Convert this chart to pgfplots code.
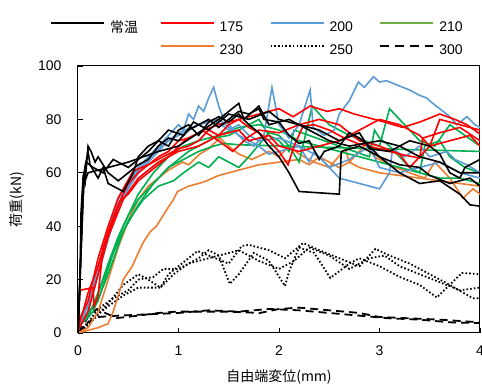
\documentclass[border=0pt]{standalone}
\usepackage{pgfplots}
\pgfplotsset{compat=1.18}
\usepackage{fontspec}
\setmainfont{Liberation Sans}
\newfontfamily\jp{Noto Sans CJK JP}
\definecolor{cred}{RGB}{255,0,0}
\definecolor{cblue}{RGB}{91,155,213}
\definecolor{cgreen}{RGB}{0,176,80}
\definecolor{lgreen}{RGB}{112,173,71}
\definecolor{corange}{RGB}{237,125,49}
\pgfplotsset{
  sblk/.style={black, line width=1.6pt, forget plot},
  sred/.style={cred, line width=1.6pt, forget plot},
  sblu/.style={cblue, line width=1.6pt, forget plot},
  sgrn/.style={cgreen, line width=1.6pt, forget plot},
  sora/.style={corange, line width=1.6pt, forget plot},
  sdot/.style={black, line width=1.8pt, dash pattern=on 1.6pt off 2.1pt, forget plot},
  sdash/.style={black, line width=1.8pt, dash pattern=on 8pt off 5pt, forget plot},
}
\begin{document}
\begin{tikzpicture}[font=\fontsize{14}{16}\selectfont]
\path[use as bounding box] (-78pt,-52pt) rectangle (404pt,333pt);
\begin{axis}[
  scale only axis, width=402pt, height=267pt,
  xmin=0, xmax=4, ymin=0, ymax=100,
  xtick={0,1,2,3,4}, ytick={0,20,40,60,80,100},
  tick align=inside, xtick pos=bottom, ytick pos=left,
  major tick length=5pt,
  /pgf/number format/assume math mode=true,
  yticklabel style={xshift=-13pt},
  xticklabel style={yshift=-9pt},
  axis line style={line width=1pt},
  every tick/.style={black, line width=0.8pt},
  xlabel={\jp 自由端変位(mm)},
  ylabel={\jp 荷重(kN)},
  xlabel style={at={(axis description cs:0.5,-0.165)}, anchor=center},
  ylabel style={at={(axis description cs:-0.152,0.5)}, anchor=center},
  legend columns=4,
  legend style={draw=none, fill=none, inner sep=0pt,
    at={(axis description cs:0.465,1.103)}, anchor=center,
    nodes={inner sep=0pt},
    /tikz/every odd column/.append style={column sep=5pt},
    /tikz/every even column/.append style={column sep=10pt},
    row sep=11pt},
  legend image code/.code={\draw[#1] (0pt,4.5pt) -- (53pt,4.5pt);},
  no markers,
]
% legend
\addlegendimage{black, line width=1.6pt}\addlegendentry{\makebox[40pt][l]{\jp 常温}}
\addlegendimage{cred, line width=1.6pt}\addlegendentry{\makebox[40pt][l]{175}}
\addlegendimage{cblue, line width=1.6pt}\addlegendentry{\makebox[40pt][l]{200}}
\addlegendimage{lgreen, line width=1.6pt}\addlegendentry{\makebox[40pt][l]{210}}
\addlegendimage{empty legend}\addlegendentry{\makebox[40pt][l]{}}
\addlegendimage{corange, line width=1.6pt}\addlegendentry{\makebox[40pt][l]{230}}
\addlegendimage{black, line width=1.8pt, dash pattern=on 1.6pt off 2.1pt}\addlegendentry{\makebox[40pt][l]{250}}
\addlegendimage{black, line width=1.8pt, dash pattern=on 9pt off 6pt}\addlegendentry{\makebox[40pt][l]{300}}

% 250 dotted
\addplot[sdot] coordinates {(0,0)(0.1,3)(0.2,7)(0.3,10)(0.45,14)(0.6,17)(0.82,17)(0.9,22)(1.0,25)(1.19,30.7)(1.3,29)(1.5,26)(1.63,32.6)(1.7,33)(1.9,31)(2.06,28)(2.24,33.7)(2.4,31)(2.6,28)(2.8,25)(2.96,31.5)(3.1,29)(3.3,26)(3.5,22)(3.7,18)(3.93,13)(4.0,13)};
\addplot[sdot] coordinates {(0,0)(0.1,4)(0.2,9)(0.35,13)(0.5,16)(0.6,20)(0.75,21)(0.85,24)(1.0,24)(1.2,28)(1.3,31)(1.4,29)(1.51,18.4)(1.6,22)(1.75,30)(1.9,27)(2.06,17.6)(2.1,23)(2.2,32)(2.35,30)(2.51,20.6)(2.7,26)(2.8,28)(3.0,25)(3.2,21)(3.4,18)(3.57,13.3)(3.82,22.5)(4.0,22)};
\addplot[sdot] coordinates {(0,0)(0.15,5)(0.3,11)(0.45,18)(0.6,22)(0.7,20)(0.82,17)(0.95,22)(1.1,26)(1.3,28)(1.5,30)(1.6,31)(1.8,27)(2.0,24)(2.15,27)(2.3,32)(2.5,29)(2.7,24)(2.9,28)(3.05,29)(3.2,25)(3.4,22)(3.6,19)(3.8,16)(4.0,17)};
% 300 dashed
\addplot[sdash] coordinates {(0,0)(0.05,3)(0.1,6)(0.19,9)(0.3,7)(0.39,5.6)(0.6,6.5)(0.8,7.5)(0.98,8)(1.2,8)(1.5,8)(1.81,7.5)(2.0,9)(2.2,9.5)(2.5,8.5)(2.8,7.5)(3.0,6)(3.3,5.5)(3.6,5)(4.0,4)};
\addplot[sdash] coordinates {(0,0)(0.1,4)(0.2,6)(0.4,6.5)(0.7,7)(1.0,7.5)(1.3,8.5)(1.6,8)(1.9,9)(2.2,8.5)(2.5,7.5)(2.8,6.5)(3.1,5.5)(3.4,5)(3.7,4)(4.0,3.7)};
% 230 orange
\addplot[sora] coordinates {(0,0)(0.1,1)(0.2,2)(0.3,3.5)(0.35,8)(0.4,14)(0.45,20)(0.54,25)(0.6,30)(0.65,34)(0.72,38)(0.78,40)(0.88,46)(0.95,50)(0.99,53)(1.1,55)(1.2,56)(1.28,57)(1.4,59)(1.6,61)(1.8,63)(2.0,64)(2.2,65)(2.3,63)(2.4,66)(2.5,64)(2.6,62)(2.7,64)(2.8,62)(3.0,60)(3.2,59)(3.4,58)(3.6,57)(3.8,56)(4.0,55)};
\addplot[sora] coordinates {(0,0)(0.1,2)(0.2,8)(0.3,20)(0.4,32)(0.5,42)(0.6,50)(0.7,55)(0.8,58)(0.9,61)(1.04,64)(1.1,63)(1.21,67)(1.3,69)(1.41,73)(1.5,70)(1.6,67)(1.73,65)(1.9,68)(2.0,66)(2.1,70)(2.2,67)(2.35,64)(2.5,62)(2.66,69)(2.7,64)(2.87,71)(2.95,66)(3.1,63)(3.3,60)(3.45,58)(3.55,64)(3.7,58)(3.83,50.5)(3.93,54)(4.0,52)};
% 210 green
\addplot[sgrn] coordinates {(0,3)(0.1,6)(0.2,15)(0.3,26)(0.4,36)(0.5,44)(0.6,50)(0.7,54)(0.8,58)(0.9,62)(1.0,65)(1.1,68)(1.2,70)(1.35,73)(1.5,74)(1.6,76)(1.7,78)(1.8,80)(1.9,74)(2.0,72)(2.1,68)(2.15,76)(2.3,74)(2.45,72)(2.6,70)(2.75,68)(2.9,66)(2.95,76)(3.0,73)(3.1,70)(3.2,66)(3.3,62)(3.4,60)(3.45,70)(3.6,72)(3.7,66)(3.85,62)(4.0,60)};
\addplot[sgrn] coordinates {(0,2)(0.15,8)(0.3,22)(0.45,38)(0.6,48)(0.75,56)(0.9,62)(1.0,64)(1.1,66)(1.2,68)(1.35,70)(1.45,71)(1.6,70.5)(2.5,69.5)(3.0,69)(3.5,68.5)(4.0,68)};
\addplot[sgrn] coordinates {(0,2)(0.2,12)(0.35,30)(0.5,42)(0.65,50)(0.8,55)(0.95,57)(1.05,60)(1.2,64)(1.3,62)(1.4,66)(1.5,64)(1.6,62)(1.7,66)(1.9,75)(2.0,74)(2.1,70)(2.2,64)(2.25,72)(2.33,85)(2.5,78)(2.7,74)(2.85,72)(3.0,70)(3.1,84)(3.25,78)(3.4,72)(3.55,70)(3.7,78)(3.85,74)(4.0,70)};
\addplot[sgrn] coordinates {(0,3)(0.15,10)(0.3,25)(0.45,40)(0.6,52)(0.75,60)(0.9,66)(1.05,70)(1.2,72)(1.4,74)(1.6,77)(1.8,78)(2.0,76)(2.2,72)(2.4,70)(2.6,68)(2.8,66)(3.0,64)(3.2,62)(3.4,60)(3.6,58)(3.8,58)(4.0,56)};
% 200 blue
\addplot[sblu] coordinates {(0,2)(0.1,10)(0.2,25)(0.3,38)(0.4,50)(0.5,56)(0.6,62)(0.7,66)(0.8,70)(0.9,74)(1.0,78)(1.05,76)(1.1,82)(1.15,80)(1.2,85)(1.25,83)(1.3,88)(1.35,92)(1.4,85)(1.45,80)(1.55,76)(1.65,72)(1.75,70)(1.85,74)(1.93,92)(2.0,78)(2.1,73)(2.2,78)(2.31,91)(2.34,77)(2.45,74)(2.55,76)(2.6,82)(2.7,87)(2.79,94)(2.85,92)(2.94,96)(3.0,94)(3.07,94.5)(3.2,92.5)(3.3,91)(3.4,89)(3.47,88)(3.53,86)(3.6,84)(3.7,81)(3.77,78)(3.87,81)(3.95,78)(4.0,77)};
\addplot[sblu] coordinates {(0,1)(0.1,8)(0.2,22)(0.3,35)(0.4,47)(0.5,54)(0.6,60)(0.7,64)(0.8,68)(0.9,72)(1.0,74)(1.1,76)(1.2,78)(1.35,80)(1.5,76)(1.6,78)(1.7,74)(1.8,72)(2.0,73)(2.2,70)(2.4,66)(2.5,62)(2.6,58)(2.8,56)(3.0,54)(3.1,60)(3.13,69)(3.25,66)(3.4,70)(3.5,66)(3.67,68)(3.75,65)(3.87,63)(4.0,60)};
\addplot[sblu] coordinates {(0,2)(0.15,15)(0.3,37)(0.45,52)(0.6,61)(0.8,69)(1.0,75)(1.2,78)(1.4,80)(1.5,77)(1.6,74)(1.8,70)(1.9,67)(2.0,68)(2.2,70)(2.3,64)(2.35,68)(2.5,62)(2.7,65)(2.9,70)(3.0,62)(3.2,60)(3.4,62)(3.6,64)(3.8,60)(4.0,58)};
% 175 red
\addplot[sred] coordinates {(0,2)(0.05,8)(0.1,15)(0.2,25)(0.3,38)(0.4,48)(0.5,56)(0.6,60)(0.7,63)(0.8,66)(0.9,68)(1.0,72)(1.1,73)(1.25,76)(1.4,78)(1.6,80)(1.8,82)(2.0,84)(2.14,81)(2.31,85)(2.48,83)(2.6,84)(2.75,82)(2.9,80.5)(3.05,79)(3.23,77)(3.4,79)(3.6,82)(3.75,80)(3.87,78)(4.0,74.5)};
\addplot[sred] coordinates {(0,3)(0.02,16)(0.15,17)(0.16,10)(0.2,14)(0.25,32)(0.35,42)(0.42,49.5)(0.5,52)(0.6,57)(0.7,60)(0.8,63)(0.9,66)(1.0,69)(1.1,70)(1.2,72)(1.3,76)(1.4,74)(1.5,78)(1.6,80)(1.7,77)(1.8,75)(1.9,72)(2.0,68)(2.09,63)(2.15,70)(2.24,77.5)(2.35,78)(2.5,76)(2.65,73)(2.78,71)(3.0,69)(3.2,67)(3.4,65.5)(3.43,73)(3.6,75)(3.8,77)(4.0,72)};
\addplot[sred] coordinates {(0,4)(0.1,12)(0.2,28)(0.3,40)(0.4,50.6)(0.55,60.7)(0.7,63)(0.82,65.5)(0.95,68)(1.08,72.7)(1.25,75.6)(1.4,72)(1.54,68)(1.68,73)(1.8,76)(2.0,75)(2.2,78)(2.4,80)(2.6,78)(2.8,72)(3.0,70)(3.2,67)(3.3,62)(3.4,66)(3.5,70)(3.6,80)(3.8,78)(4.0,76)};
\addplot[sred] coordinates {(0,1)(0.1,8)(0.2,22)(0.3,36)(0.45,50)(0.6,58)(0.8,64)(1.0,68)(1.2,70)(1.4,74)(1.6,76)(1.7,72)(1.9,74)(2.0,70)(2.2,68)(2.4,70)(2.6,72)(2.8,76)(3.0,80)(3.2,78)(3.4,74)(3.5,70)(3.7,72)(3.9,74)(4.0,70)};
% room temperature black
\addplot[sblk] coordinates {(0,0)(0.02,20)(0.03,45)(0.05,58)(0.07,56)(0.1,70)(0.13,68)(0.17,64)(0.2,66)(0.3,60)(0.4,57)(0.5,60)(0.6,63)(0.7,65)(0.8,70)(0.9,73)(1.0,72)(1.1,76)(1.2,78)(1.3,80)(1.4,77)(1.5,80)(1.6,83)(1.7,82)(1.8,84)(1.85,80)(2.0,79)(2.1,74)(2.2,71)(2.3,72)(2.4,65)(2.45,68)(2.6,70)(2.7,75)(2.8,73)(2.9,70)(3.0,66)(3.2,63)(3.4,62)(3.5,59)(3.7,56)(3.9,58)(4.0,55)};
\addplot[sblk] coordinates {(0,0)(0.03,30)(0.05,50)(0.07,62)(0.1,68)(0.12,63)(0.2,58)(0.25,62)(0.3,56)(0.45,53)(0.55,60)(0.6,66)(0.7,70)(0.8,72)(0.9,70)(1.0,76)(1.1,78)(1.2,74)(1.3,79)(1.4,81)(1.5,79)(1.6,82)(1.7,78)(1.8,75)(1.9,70)(2.0,66)(2.1,60)(2.2,53)(2.6,52)(2.62,68)(2.8,70)(3.0,66)(3.2,60)(3.4,56)(3.6,57)(3.8,52)(3.9,48)(4.0,47.5)};
\addplot[sblk] coordinates {(0,0)(0.04,40)(0.06,60)(0.08,64)(0.15,62)(0.25,60)(0.35,65)(0.5,62)(0.7,68)(0.9,76)(1.05,74)(1.15,79)(1.3,76)(1.5,82)(1.7,80)(1.9,83)(2.0,80)(2.2,78)(2.4,76)(2.6,72)(2.8,75)(2.9,69)(3.1,68)(3.3,72)(3.5,70)(3.6,67)(3.7,60)(3.8,58)(3.85,62)(4.0,65)};
\addplot[sblk] coordinates {(0,0)(0.05,55)(0.1,60)(0.3,62)(0.5,64)(0.8,68)(1.0,70)(1.2,75)(1.4,80)(1.6,86)(1.65,80)(1.8,85)(1.9,78)(2.1,80)(2.3,76)(2.5,72)(2.7,70)(3.0,72)(3.2,70)(3.4,66)(3.6,64)(3.8,60)(4.0,60)};
\end{axis}
\end{tikzpicture}
\end{document}
